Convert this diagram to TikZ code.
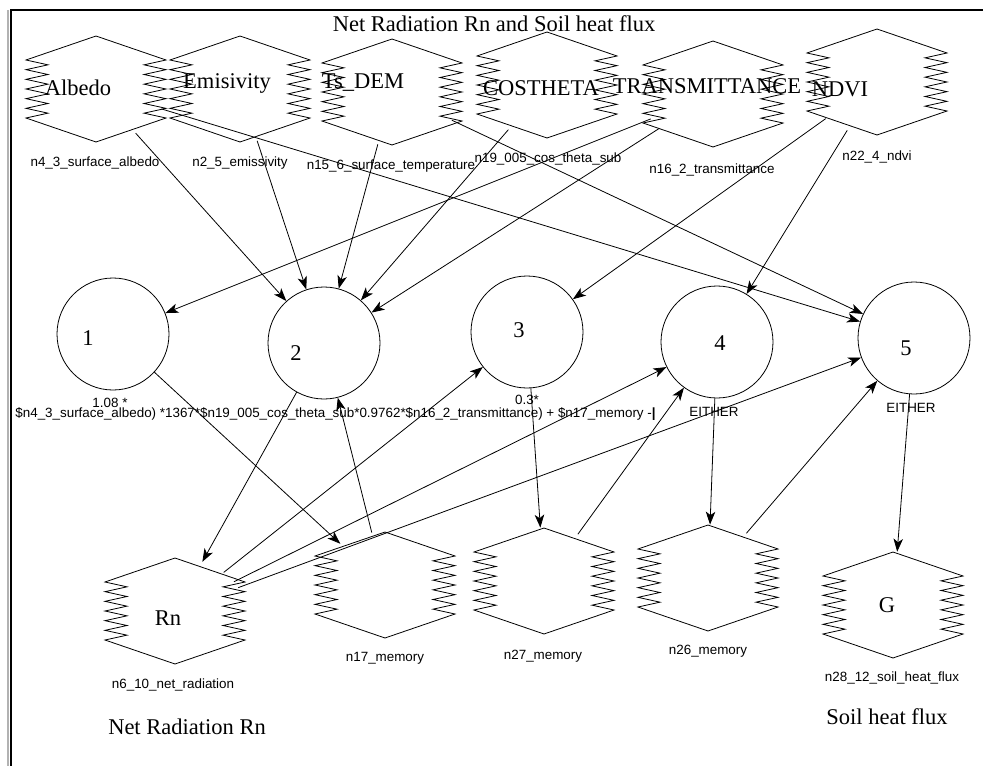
\documentclass[tikz,border=0pt]{standalone}
\usepackage{fontspec}
\setmainfont{Liberation Serif}
\newfontfamily\capfont{Liberation Sans}
\usetikzlibrary{shapes.geometric,arrows.meta}

\tikzset{
  zzhex/.pic={
    \draw (0,-53) -- (70,-29)
      \foreach \k in {1,...,6}{ -- (48,{-29+(\k-0.5)*58/6}) -- (70,{-29+\k*58/6}) }
      -- (0,53) -- (-70,29)
      \foreach \k in {1,...,6}{ -- (-48,{29-(\k-0.5)*58/6}) -- (-70,{29-\k*58/6}) }
      -- cycle;
  },
  hexbox/.style={ellipse, minimum width=140pt, minimum height=106pt, inner sep=0pt},
  proc/.style={circle, draw, minimum size=112pt, inner sep=0pt},
  bigtxt/.style={font=\fontsize{22.5}{24}\selectfont, inner sep=0pt},
  smalltxt/.style={font=\capfont\fontsize{13.4}{15}\selectfont, inner sep=0pt},
  flow/.style={-{Stealth[length=13pt,width=9.5pt,inset=3.5pt]}}
}

\begin{document}
\begin{tikzpicture}[x=1pt,y=-1pt,line width=0.8pt]
\useasboundingbox (0,0) rectangle (983,766);
% window frame
\draw[gray!60,line width=1.5pt] (8,10) -- (8,766);
\draw[line width=2pt] (11,766) -- (11,10) -- (983,10);

\node[bigtxt] (title) at (494,24) {Net Radiation Rn and Soil heat flux};

% input stocks
\pic at (96,89) {zzhex};   \node[hexbox] (albedo) at (96,89) {};
\pic at (240,89) {zzhex};  \node[hexbox] (emis) at (240,89) {};
\pic at (392,92) {zzhex};  \node[hexbox] (tsdem) at (392,92) {};
\pic at (547,85) {zzhex};  \node[hexbox] (costheta) at (547,85) {};
\pic at (713,94) {zzhex};  \node[hexbox] (transm) at (713,94) {};
\pic at (877,82) {zzhex};  \node[hexbox] (ndvi) at (877,82) {};

\node[bigtxt] (albedo-l) at (78,88) {Albedo};
\node[bigtxt] (emis-l) at (227,83) {Emisivity};
\node[bigtxt] (tsdem-l) at (363,83) {Ts\_DEM};
\node[bigtxt] (costheta-l) at (541,88) {COSTHETA};
\node[bigtxt] (transm-l) at (707,86) {TRANSMITTANCE};
\node[bigtxt] (ndvi-l) at (840,89) {NDVI};

\node[smalltxt] (albedo-c) at (95,163) {n4\_3\_surface\_albedo};
\node[smalltxt] (emis-c) at (240,163) {n2\_5\_emissivity};
\node[smalltxt] (tsdem-c) at (391,166) {n15\_6\_surface\_temperature};
\node[smalltxt] (costheta-c) at (548,159) {n19\_005\_cos\_theta\_sub};
\node[smalltxt] (transm-c) at (712,170) {n16\_2\_transmittance};
\node[smalltxt] (ndvi-c) at (877,157) {n22\_4\_ndvi};

% processes
\node[proc] (p1) at (113,334) {};
\node[proc] (p2) at (324,343) {};
\node[proc] (p3) at (527,332) {};
\node[proc] (p4) at (717,342) {};
\node[proc] (p5) at (914,338) {};
\node[bigtxt] (p1-l) at (88,338) {1};
\node[bigtxt] (p2-l) at (296,353) {2};
\node[bigtxt] (p3-l) at (519,330) {3};
\node[bigtxt] (p4-l) at (720,343) {4};
\node[bigtxt] (p5-l) at (906,348) {5};

\node[smalltxt] (p1-c) at (110,403) {1.08 *};
\node[smalltxt,anchor=west] (p2-c) at (15,414) {\$n4\_3\_surface\_albedo) *1367*\$n19\_005\_cos\_theta\_sub*0.9762*\$n16\_2\_transmittance) + \$n17\_memory -\textbf{|}};
\node[smalltxt] (p3-c) at (527,400) {0.3*};
\node[smalltxt] (p4-c) at (714,412) {EITHER};
\node[smalltxt] (p5-c) at (911,408) {EITHER};

% output stocks
\pic at (175,611) {zzhex}; \node[hexbox] (rn) at (175,611) {};
\pic at (385,585) {zzhex}; \node[hexbox] (mem17) at (385,585) {};
\pic at (544,581) {zzhex}; \node[hexbox] (mem27) at (544,581) {};
\pic at (708,578) {zzhex}; \node[hexbox] (mem26) at (708,578) {};
\pic at (893,605) {zzhex}; \node[hexbox] (soilg) at (893,605) {};

\node[bigtxt] (rn-l) at (168,618) {Rn};
\node[bigtxt] (soilg-l) at (887,605) {G};
\node[smalltxt] (rn-c) at (173,685) {n6\_10\_net\_radiation};
\node[smalltxt] (mem17-c) at (385,658) {n17\_memory};
\node[smalltxt] (mem27-c) at (543,656) {n27\_memory};
\node[smalltxt] (mem26-c) at (708,651) {n26\_memory};
\node[smalltxt] (soilg-c) at (892,678) {n28\_12\_soil\_heat\_flux};

\node[bigtxt] (rn-t) at (187,727) {Net Radiation Rn};
\node[bigtxt] (soilg-t) at (887,717) {Soil heat flux};

% connectors
\draw[flow] (albedo) -- (p2);
\draw[flow] (albedo) -- (p5);
\draw[flow] (emis) -- (p2);
\draw[flow] (tsdem) -- (p2);
\draw[flow] (tsdem) -- (p5);
\draw[flow] (costheta) -- (p2);
\draw[flow] (transm) -- (p1);
\draw[flow] (transm) -- (p2);
\draw[flow] (ndvi) -- (p3);
\draw[flow] (ndvi) -- (p4);
\draw[flow] (p1) -- (mem17);
\draw[flow] (p2) -- (rn);
\draw[flow] (mem17) -- (p2);
\draw[flow] (rn) -- (p3);
\draw[flow] (rn) -- (p4);
\draw[flow] (rn) -- (p5);
\draw[flow] (p3) -- (mem27);
\draw[flow] (mem27) -- (p4);
\draw[flow] (p4) -- (mem26);
\draw[flow] (mem26) -- (p5);
\draw[flow] (p5) -- (soilg);
\end{tikzpicture}
\end{document}
